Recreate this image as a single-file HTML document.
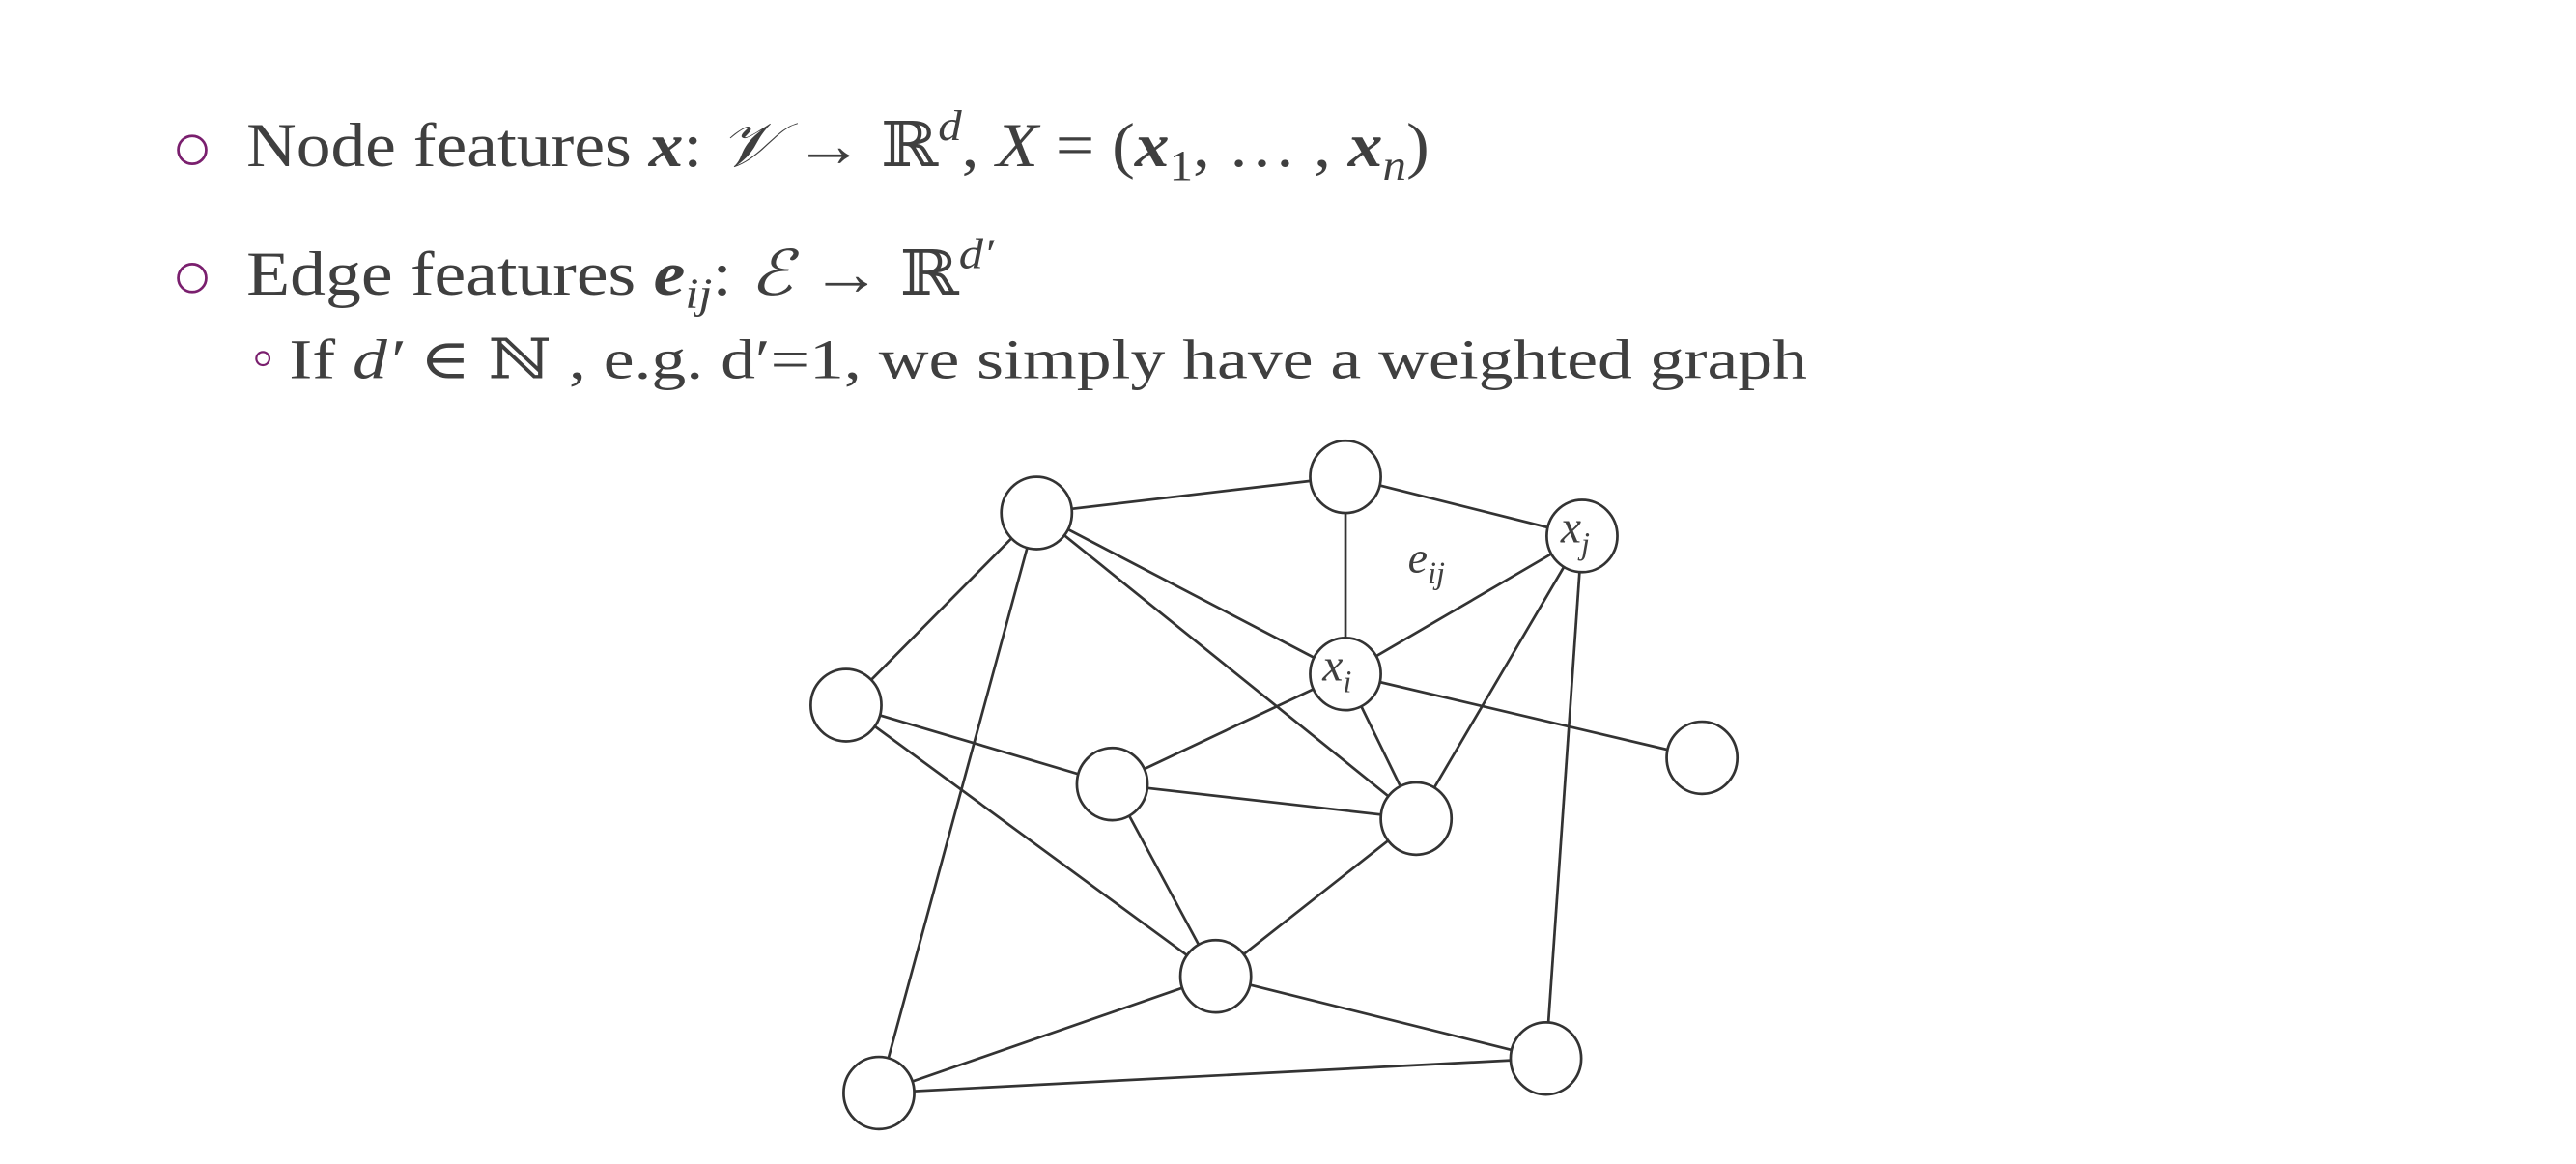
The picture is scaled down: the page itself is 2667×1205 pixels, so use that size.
<!DOCTYPE html>
<html><head><meta charset="utf-8"><style>
html,body{margin:0;padding:0;background:#fff;}
svg{display:block;}
text{font-family:"Liberation Serif","DejaVu Serif",serif;fill:#3f3f3f;}
</style></head><body>
<svg width="2667" height="1205" viewBox="0 0 1568 708" xmlns="http://www.w3.org/2000/svg">
<rect width="1568" height="708" fill="#fff"/>
<circle cx="117" cy="91" r="8.5" fill="none" stroke="#7a1f6e" stroke-width="1.6"/>
<circle cx="117" cy="169" r="8.5" fill="none" stroke="#7a1f6e" stroke-width="1.6"/>
<circle cx="160" cy="218" r="4" fill="none" stroke="#7a1f6e" stroke-width="1.3"/>
<text x="150" y="101" font-size="38" textLength="720" lengthAdjust="spacingAndGlyphs">Node features <tspan font-weight="bold" font-style="italic">x</tspan>: <tspan font-style="italic">𝒱</tspan> → ℝ<tspan font-size="26" dy="-16" font-style="italic">d</tspan><tspan dy="16">, </tspan><tspan font-style="italic">X</tspan> = (<tspan font-weight="bold" font-style="italic">x</tspan><tspan font-size="26" dy="8">1</tspan><tspan dy="-8">, … , </tspan><tspan font-weight="bold" font-style="italic">x</tspan><tspan font-size="26" dy="8" font-style="italic">n</tspan><tspan dy="-8">)</tspan></text>
<text x="150" y="179" font-size="38" textLength="455" lengthAdjust="spacingAndGlyphs">Edge features <tspan font-weight="bold" font-style="italic">e</tspan><tspan font-size="26" dy="8" font-style="italic">ij</tspan><tspan dy="-8">: </tspan><tspan font-style="italic">ℰ</tspan> → ℝ<tspan font-size="26" dy="-16" font-style="italic">d′</tspan></text>
<text x="176" y="230" font-size="34" textLength="924" lengthAdjust="spacingAndGlyphs">If <tspan font-style="italic">d′</tspan> ∈ ℕ , e.g. d′=1, we simply have a weighted graph</text>
<g stroke="#333" stroke-width="1.6" fill="none">
<line x1="631" y1="312" x2="819" y2="290"/>
<line x1="819" y1="290" x2="963" y2="326"/>
<line x1="819" y1="290" x2="819" y2="410"/>
<line x1="631" y1="312" x2="819" y2="410"/>
<line x1="631" y1="312" x2="862" y2="498"/>
<line x1="631" y1="312" x2="515" y2="429"/>
<line x1="631" y1="312" x2="535" y2="665"/>
<line x1="819" y1="410" x2="963" y2="326"/>
<line x1="819" y1="410" x2="677" y2="477"/>
<line x1="819" y1="410" x2="862" y2="498"/>
<line x1="819" y1="410" x2="1036" y2="461"/>
<line x1="963" y1="326" x2="862" y2="498"/>
<line x1="963" y1="326" x2="941" y2="644"/>
<line x1="515" y1="429" x2="677" y2="477"/>
<line x1="515" y1="429" x2="740" y2="594"/>
<line x1="677" y1="477" x2="862" y2="498"/>
<line x1="677" y1="477" x2="740" y2="594"/>
<line x1="862" y1="498" x2="740" y2="594"/>
<line x1="740" y1="594" x2="535" y2="665"/>
<line x1="740" y1="594" x2="941" y2="644"/>
<line x1="535" y1="665" x2="941" y2="644"/>
</g>
<g stroke="#333" stroke-width="1.6" fill="#fff">
<ellipse cx="631" cy="312" rx="21.5" ry="22"/>
<ellipse cx="819" cy="290" rx="21.5" ry="22"/>
<ellipse cx="963" cy="326" rx="21.5" ry="22"/>
<ellipse cx="819" cy="410" rx="21.5" ry="22"/>
<ellipse cx="515" cy="429" rx="21.5" ry="22"/>
<ellipse cx="677" cy="477" rx="21.5" ry="22"/>
<ellipse cx="862" cy="498" rx="21.5" ry="22"/>
<ellipse cx="1036" cy="461" rx="21.5" ry="22"/>
<ellipse cx="740" cy="594" rx="21.5" ry="22"/>
<ellipse cx="941" cy="644" rx="21.5" ry="22"/>
<ellipse cx="535" cy="665" rx="21.5" ry="22"/>
</g>
<text x="805" y="414" font-size="28" font-style="italic" fill="#111">x<tspan font-size="19" dy="7">i</tspan></text>
<text x="950" y="330" font-size="28" font-style="italic" fill="#111">x<tspan font-size="19" dy="7">j</tspan></text>
<text x="857" y="348" font-size="27" font-style="italic" fill="#111">e<tspan font-size="19" dy="7">ij</tspan></text>
</svg>
</body></html>
